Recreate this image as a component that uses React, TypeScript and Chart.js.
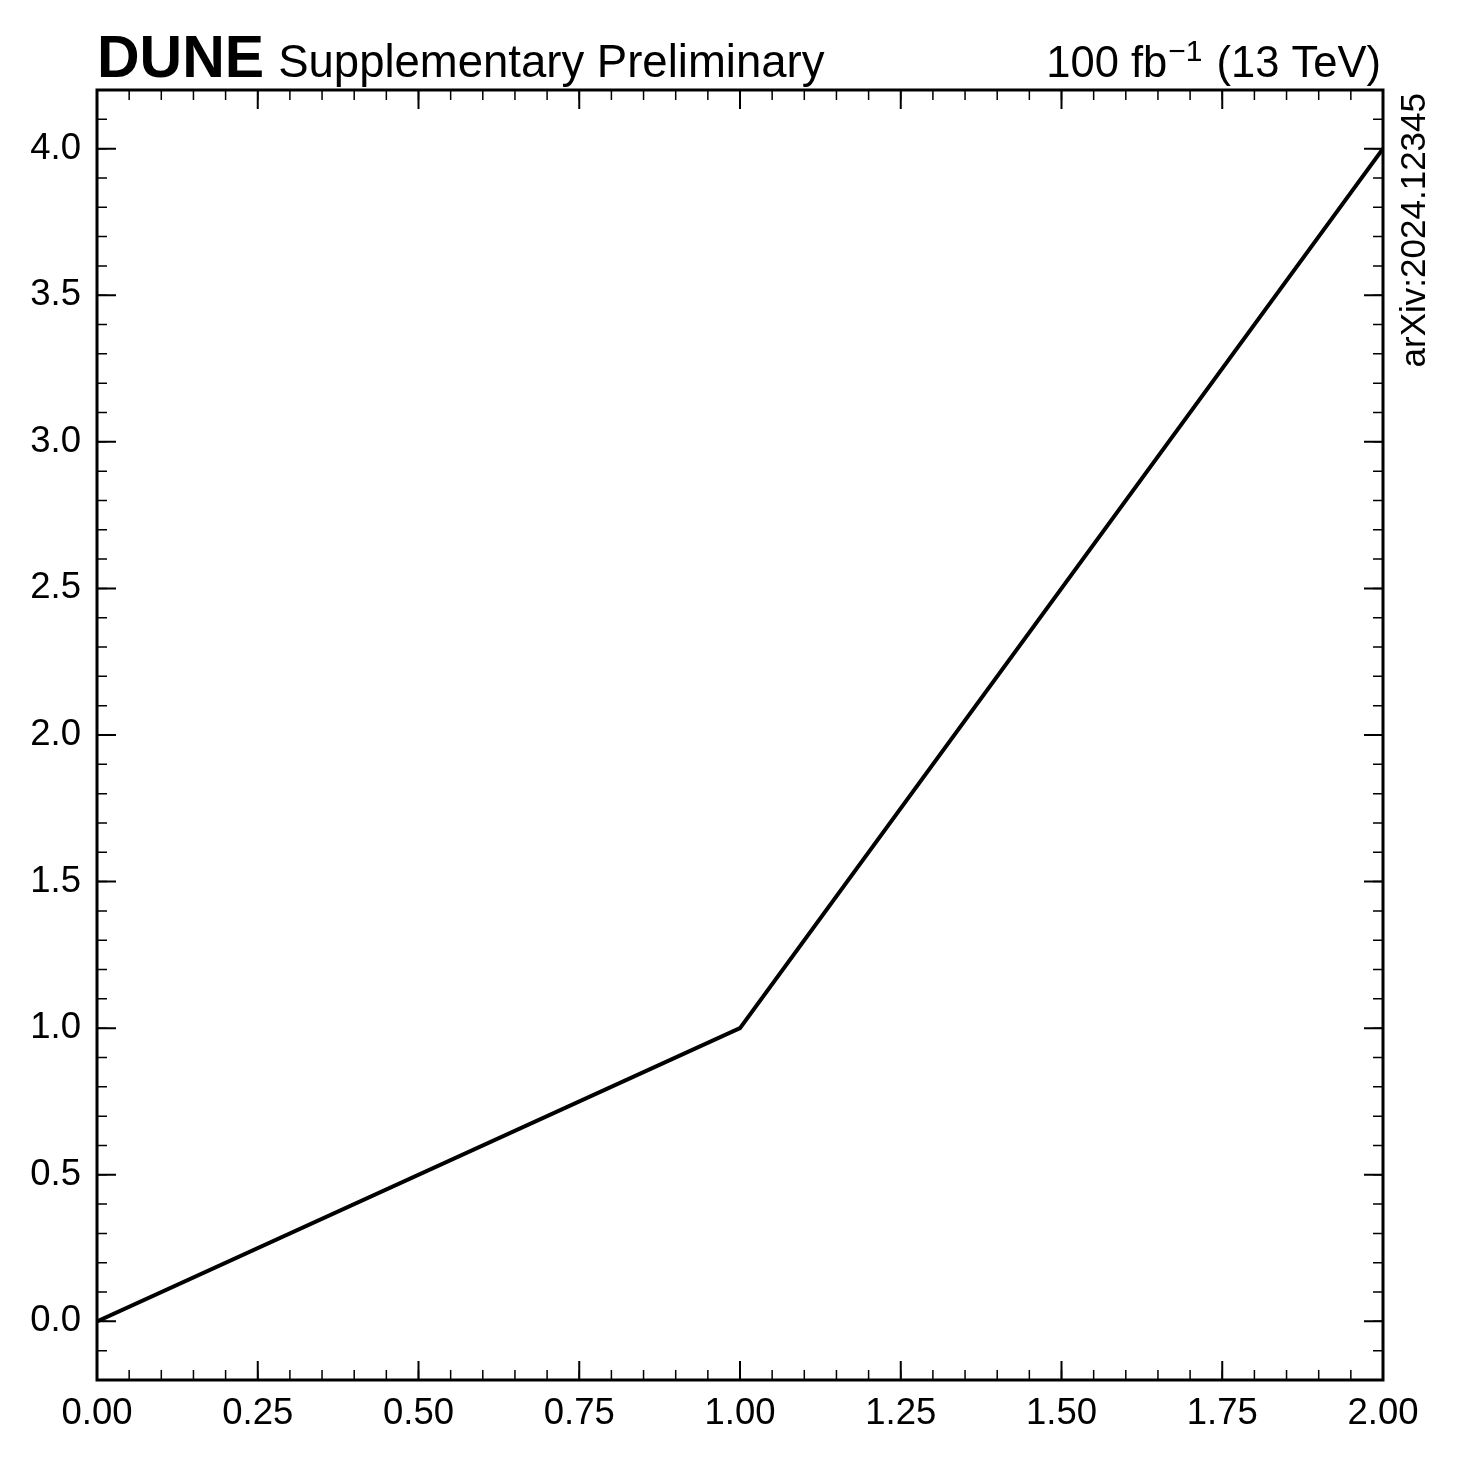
import React, { useEffect, useRef } from 'react';
import { Chart, registerables } from 'chart.js';

Chart.register(...registerables);

// the series
const xValues = [0, 1, 2];
const yValues = [0, 1, 4];

// axes
const xRange = [0, 2];
const yRange = [-0.2, 4.2];
const xTicks = [0, 0.25, 0.5, 0.75, 1.0, 1.25, 1.5, 1.75, 2.0];
const yTicks = [0, 0.5, 1.0, 1.5, 2.0, 2.5, 3.0, 3.5, 4.0];
const xMinorStep = 0.05;
const yMinorStep = 0.1;

// labels
const expLabel = 'DUNE';
const expSubLabel = 'Supplementary Preliminary';
const lumiParts = ['100 fb', '\u22121', ' (13 TeV)'];
const sideLabel = 'arXiv:2024.12345';

const FONT = '"Liberation Sans", Arial, Helvetica, sans-serif';

const hepStyle = {
    id: 'hepStyle',
    afterDraw(chart) {
        const { ctx, chartArea: a, scales } = chart;
        const xs = scales.x;
        const ys = scales.y;
        ctx.save();
        ctx.strokeStyle = '#000';

        // minor ticks, inward on all four sides
        ctx.lineWidth = 1.5;
        ctx.beginPath();
        for (let v = xRange[0]; v <= xRange[1] + 1e-9; v += xMinorStep) {
            const px = xs.getPixelForValue(v);
            ctx.moveTo(px, a.bottom); ctx.lineTo(px, a.bottom - 10);
            ctx.moveTo(px, a.top); ctx.lineTo(px, a.top + 10);
        }
        for (let v = yRange[0]; v <= yRange[1] + 1e-9; v += yMinorStep) {
            const py = ys.getPixelForValue(v);
            ctx.moveTo(a.left, py); ctx.lineTo(a.left + 10, py);
            ctx.moveTo(a.right, py); ctx.lineTo(a.right - 10, py);
        }
        ctx.stroke();

        // major ticks
        ctx.lineWidth = 2;
        ctx.beginPath();
        xTicks.forEach(v => {
            const px = xs.getPixelForValue(v);
            ctx.moveTo(px, a.bottom); ctx.lineTo(px, a.bottom - 19);
            ctx.moveTo(px, a.top); ctx.lineTo(px, a.top + 19);
        });
        yTicks.forEach(v => {
            const py = ys.getPixelForValue(v);
            ctx.moveTo(a.left, py); ctx.lineTo(a.left + 19, py);
            ctx.moveTo(a.right, py); ctx.lineTo(a.right - 19, py);
        });
        ctx.stroke();

        // frame
        ctx.lineWidth = 3;
        ctx.strokeRect(a.left, a.top, a.right - a.left, a.bottom - a.top);

        // header texts
        ctx.fillStyle = '#000';
        ctx.textBaseline = 'alphabetic';
        ctx.textAlign = 'left';
        const base = 77;
        ctx.font = 'bold 59px ' + FONT;
        ctx.fillText(expLabel, a.left, base);
        const w = ctx.measureText(expLabel).width;
        ctx.font = '45.5px ' + FONT;
        ctx.fillText(expSubLabel, a.left + w + 14, base);

        // lumi text, right aligned to the frame
        const big = '43.5px ' + FONT;
        const small = '30px ' + FONT;
        ctx.font = big;
        const w0 = ctx.measureText(lumiParts[0]).width;
        const w2 = ctx.measureText(lumiParts[2]).width;
        ctx.font = small;
        const w1 = ctx.measureText(lumiParts[1]).width + 2;
        let x = a.right - 3 - (w0 + w1 + w2);
        ctx.font = big;
        ctx.fillText(lumiParts[0], x, base);
        x += w0 + 1;
        ctx.font = small;
        ctx.fillText(lumiParts[1], x, base - 16);
        x += w1;
        ctx.font = big;
        ctx.fillText(lumiParts[2], x, base);

        // side label, rotated
        ctx.translate(1425, a.top + 3);
        ctx.rotate(-Math.PI / 2);
        ctx.textAlign = 'right';
        ctx.font = '35px ' + FONT;
        ctx.fillText(sideLabel, 0, 0);
        ctx.restore();
    }
};

export default function App() {
    const canvas = useRef(null);

    useEffect(() => {
        const chart = new Chart(canvas.current, {
            type: 'line',
            data: {
                datasets: [{
                    data: xValues.map((x, i) => ({ x, y: yValues[i] })),
                    borderColor: '#000',
                    borderWidth: 4,
                    pointRadius: 0,
                    tension: 0,
                    fill: false
                }]
            },
            options: {
                responsive: false,
                animation: false,
                layout: { padding: { top: 90, right: 77, left: 0, bottom: 0 } },
                plugins: {
                    legend: { display: false },
                    tooltip: { enabled: false }
                },
                scales: {
                    x: {
                        type: 'linear',
                        min: xRange[0],
                        max: xRange[1],
                        afterBuildTicks: s => { s.ticks = xTicks.map(value => ({ value })); },
                        afterFit: s => { s.height = 81; },
                        grid: { display: false, drawTicks: false, tickLength: 0 },
                        border: { display: false },
                        ticks: {
                            color: '#000',
                            font: { family: FONT, size: 36.5 },
                            padding: 12,
                            maxRotation: 0,
                            autoSkip: false,
                            callback: v => Number(v).toFixed(2)
                        }
                    },
                    y: {
                        type: 'linear',
                        min: yRange[0],
                        max: yRange[1],
                        afterBuildTicks: s => { s.ticks = yTicks.map(value => ({ value })); },
                        afterFit: s => { s.width = 97; },
                        grid: { display: false, drawTicks: false, tickLength: 0 },
                        border: { display: false },
                        ticks: {
                            color: '#000',
                            font: { family: FONT, size: 36.5 },
                            padding: 16,
                            autoSkip: false,
                            callback: v => Number(v).toFixed(1)
                        }
                    }
                }
            },
            plugins: [hepStyle]
        });
        return () => {
            chart.destroy();
        };
    }, []);

    return (
        <div style={{ position: 'absolute', left: 0, top: 0, width: 1460, height: 1461, background: '#fff' }}>
            <canvas ref={canvas} width={1460} height={1461}></canvas>
        </div>
    );
}
